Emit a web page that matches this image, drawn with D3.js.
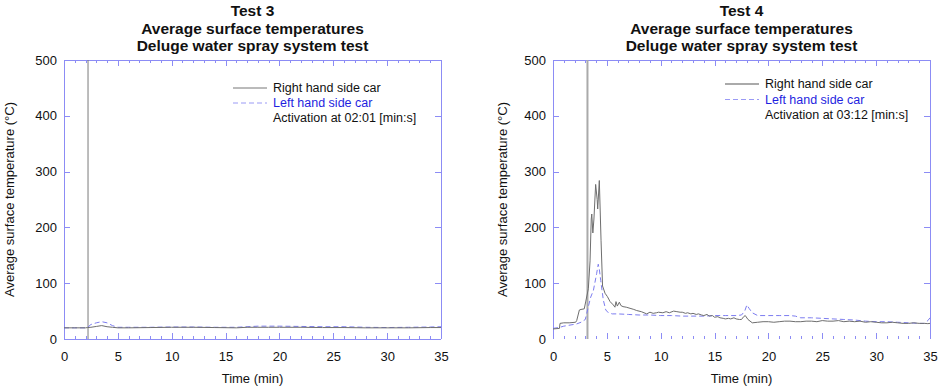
<!DOCTYPE html>
<html><head><meta charset="utf-8">
<script src="https://cdn.jsdelivr.net/npm/d3@7"></script>
<style>body{margin:0;background:#fff;} svg{display:block;font-family:"Liberation Sans",Arial,sans-serif;}</style>
</head><body>
<svg id="c" width="943" height="390"></svg>
<script>
// ---- data ----
const xTicks = [0,5,10,15,20,25,30,35];
const yTicks = [0,100,200,300,400,500];

const time3 = [0,1,2,2.2,2.5,3,3.5,4,4.5,5,6,8,10,12,14,16,17,18,19,20,22,24,26,28,30,32,34,35];
const rhs3  = [20,20,20,20.5,21,22.5,24,22,21,20,20,20.5,21,21,20.5,20,21,21,21,21,21,20.5,20.5,20,20,20,20.5,20.5];
const lhs3  = [20,20,20,21,26,29,31,29,24,21,21,21,21.5,21.5,21,21,22,23,23,23,22.5,22,22,21,20.5,21,21.5,22];
const activation3 = 2.23;

const time4r = [0,0.6,0.65,1.0,1.5,2.1,2.2,2.45,2.6,2.9,3.05,3.28,3.44,3.55,3.6,3.7,3.8,3.96,4.1,4.15,4.3,4.46,4.6,4.83,5.05,5.3,5.6,5.75,5.85,5.97,6.16,6.3,6.5,6.8,7.15,7.5,7.77,8.2,8.7,9.0,9.3,9.6,9.8,10.2,10.5,10.8,11.2,11.5,11.8,12.0,12.3,12.5,12.8,13,13.3,13.5,13.8,14,14.3,14.5,14.8,15,15.3,15.5,15.8,16,16.3,16.5,16.8,17,17.3,17.5,17.7,17.85,18.1,18.5,19,19.5,20,20.5,21,21.5,22,22.5,23,23.5,24,24.5,25,25.5,26,26.5,27,27.5,28,28.5,29,29.5,30,30.5,31,31.5,32,32.5,33,33.5,34,34.5,34.8,35];
const rhs4   = [18,19,28,29,29,30,33,52,53,54,68,90,140,215,224,190,215,277,250,233,284,177,95,82,76,67,61,57,67,59,66,60,58,57,55,53,51,49,45,48,46,47,48,47,49,47,50,49,48,48,46,47,45,46,44,45,43,42,44,41,42,39,40,38,37,36,37,36,38,36,35,35,40,42,35,29,30,31,31,30,31,32,32,31,31,32,32,31,33,32,32,33,31,32,31,32,30,31,30,29,29,30,29,28,28,29,28,28,27.5,28,28,34,36];
const time4l = [0,0.65,1,2.2,2.6,3.0,3.28,3.5,3.75,4.05,4.2,4.3,4.43,4.67,4.9,5.14,5.5,6,7,8,9,10,11,12,13,14,15,16,17,17.5,17.8,18.0,18.2,18.5,19,20,21,22,22.5,23,24,25,26,27,28,29,30,31,32,33,34,34.5,34.8,35];
const lhs4   = [19,21,23,27,30,35,58,75,87,117,134,125,105,70,52,47,45,45,44,43,43,42,42,41,41,41,42,42,42,43,50,61,55,47,42,42,42,42,41,38,38,37,36,35,34,32,31,31,30,29,28,28,33,38];
const activation4 = 3.2;

const titles3 = ["Test 3","Average surface temperatures","Deluge water spray system test"];
const titles4 = ["Test 4","Average surface temperatures","Deluge water spray system test"];
const legend3 = ["Right hand side car","Left hand side car","Activation at 02:01 [min:s]"];
const legend4 = ["Right hand side car","Left hand side car","Activation at 03:12 [min:s]"];
const xLabel = "Time (min)";
const yLabel = "Average surface temperature (°C)";

const svg = d3.select("#c");
const axisCol = "#8c8cf5";

function panel(o){
  const g = svg.append("g");
  const x = d3.scaleLinear().domain([0,35]).range([o.x0,o.x1]);
  const y = d3.scaleLinear().domain([0,500]).range([339,60]);
  // titles
  o.titles.forEach((t,i)=>g.append("text").attr("x",(o.x0+o.x1)/2).attr("y",16+i*17.5)
    .attr("text-anchor","middle").attr("font-size",15.5).attr("font-weight","bold").attr("fill","#111").text(t));
  // frame
  const fr = g.append("g").attr("stroke",axisCol).attr("stroke-width",1).attr("fill","none");
  fr.append("line").attr("x1",o.x0).attr("x2",o.x1).attr("y1",60.5).attr("y2",60.5);
  fr.append("line").attr("x1",o.x0+0.5).attr("x2",o.x0+0.5).attr("y1",60).attr("y2",339);
  fr.append("line").attr("x1",o.x1+0.5).attr("x2",o.x1+0.5).attr("y1",60).attr("y2",339);
  if(o.bottomLine) fr.append("line").attr("x1",o.x0).attr("x2",o.x1).attr("y1",339.5).attr("y2",339.5);
  // minor/major x ticks
  const minutes = d3.range(0,36);
  minutes.forEach(m=>{
    const major = m%5===0; const len = major?6:3; const xp = Math.round(x(m))+0.5;
    if(m>0 && m<35){
      fr.append("line").attr("x1",xp).attr("x2",xp).attr("y1",60).attr("y2",60+len);
      fr.append("line").attr("x1",xp).attr("x2",xp).attr("y1",339).attr("y2",339-len);
    }
  });
  // y ticks
  yTicks.forEach(v=>{
    if(v===0||v===500) return;
    const yp = Math.round(y(v))+0.5;
    fr.append("line").attr("x1",o.x0).attr("x2",o.x0+6).attr("y1",yp).attr("y2",yp);
    fr.append("line").attr("x1",o.x1).attr("x2",o.x1-6).attr("y1",yp).attr("y2",yp);
  });
  // tick labels
  const xa = d3.axisBottom(x).tickValues(xTicks).tickSize(0).tickPadding(0);
  g.append("g").attr("transform","translate(0,352)").call(xa).call(s=>s.select(".domain").remove())
    .selectAll("text").attr("font-size",13).attr("fill","#111").attr("font-family","Liberation Sans, Arial, sans-serif");
  const ya = d3.axisLeft(y).tickValues(yTicks).tickSize(0).tickPadding(0);
  g.append("g").attr("transform",`translate(${o.x0-7},0)`).call(ya).call(s=>s.select(".domain").remove())
    .selectAll("text").attr("font-size",13).attr("fill","#111").attr("font-family","Liberation Sans, Arial, sans-serif");
  g.append("text").attr("x",(o.x0+o.x1)/2).attr("y",383).attr("text-anchor","middle").attr("font-size",13).attr("fill","#111").text(xLabel);
  g.append("text").attr("transform",`translate(${o.x0-o.ylOff},${(60+339)/2}) rotate(-90)`).attr("text-anchor","middle")
    .attr("font-size",13).attr("fill","#111").text(yLabel);
  // activation line
  g.append("line").attr("x1",x(o.act)).attr("x2",x(o.act)).attr("y1",y(500)).attr("y2",y(0))
    .attr("stroke",o.actCol).attr("stroke-width",o.actW);
  // series
  const line = d3.line().x(d=>x(d[0])).y(d=>y(d[1]));
  g.append("path").datum(o.tl.map((t,i)=>[t,o.lhs[i]])).attr("d",line).attr("fill","none")
    .attr("stroke","#7c7cf0").attr("stroke-width",1).attr("stroke-dasharray","5,3");
  g.append("path").datum(o.tr.map((t,i)=>[t,o.rhs[i]])).attr("d",line).attr("fill","none")
    .attr("stroke","#6e6e6e").attr("stroke-width",1);
  // legend
  const lx = o.lx, ly = o.ly;
  g.append("line").attr("x1",lx).attr("x2",lx+34).attr("y1",ly).attr("y2",ly).attr("stroke",o.legCol).attr("stroke-width",o.legW);
  g.append("line").attr("x1",lx).attr("x2",lx+34).attr("y1",ly+o.dy).attr("y2",ly+o.dy).attr("stroke","#9a9af5").attr("stroke-dasharray","5,3");
  const cols = ["#111","#1f1fe0","#111"];
  o.legend.forEach((t,i)=>g.append("text").attr("x",lx+40).attr("y",ly+4+i*o.dy).attr("font-size",12.5).attr("fill",cols[i]).text(t));
}

panel({x0:64,x1:441,titles:titles3,bottomLine:true,act:activation3,actCol:"#7a7a7a",actW:1,ylOff:50,
  tr:time3,rhs:rhs3,tl:time3,lhs:lhs3,legend:legend3,lx:233,ly:88,dy:15,legCol:"#777",legW:1});
panel({x0:553,x1:930,titles:titles4,bottomLine:false,act:activation4,actCol:"#aaaaaa",actW:2,ylOff:46,
  tr:time4r,rhs:rhs4,tl:time4l,lhs:lhs4,legend:legend4,lx:725,ly:84,dy:15.5,legCol:"#aaa",legW:2});
</script>
</body></html>
